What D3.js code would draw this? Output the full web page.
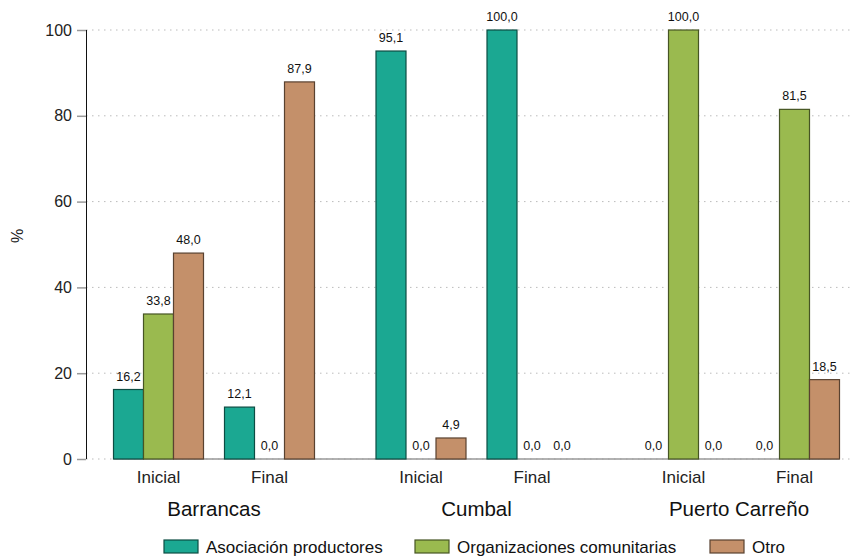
<!DOCTYPE html>
<html><head><meta charset="utf-8">
<script src="https://cdn.jsdelivr.net/npm/d3@7"></script>
<style>body{margin:0;background:#fff}svg{display:block;font-family:"Liberation Sans",Arial,sans-serif}</style>
</head><body><svg id="c" width="859" height="557"></svg>
<script>
const regions = ["Barrancas", "Cumbal", "Puerto Carreño"];
const phases = ["Inicial", "Final"];
const series = ["Asociación productores", "Organizaciones comunitarias", "Otro"];
const colors = ["#1ba892", "#9aba4f", "#c4906a"];
const asociacion = [16.2, 12.1, 95.1, 100.0, 0.0, 0.0];
const organizaciones = [33.8, 0.0, 0.0, 0.0, 100.0, 81.5];
const otro = [48.0, 87.9, 4.9, 0.0, 0.0, 18.5];
const yTicks = [0, 20, 40, 60, 80, 100];

const values = [asociacion, organizaciones, otro];
const svg = d3.select("#c");
const y = d3.scaleLinear().domain([0, 100]).range([459, 30]);
const xr = d3.scalePoint().domain(regions).range([214, 739]);
const xp = d3.scaleBand().domain(phases).range([-111, 111]);
const xs = d3.scaleBand().domain(series).range([-45, 45]);
const axisX = 86, gridEnd = 850;

// gridlines
svg.append("g").selectAll("line").data(yTicks).join("line")
  .attr("x1", axisX).attr("x2", gridEnd)
  .attr("y1", d => y(d)).attr("y2", d => y(d))
  .attr("stroke", "#bbb").attr("stroke-width", 1).attr("stroke-dasharray", "1.5,4.5");

// baseline under bars
const firstX = xr(regions[0]) + xp(phases[0]) + xp.bandwidth() / 2 + xs(series[0]);
const lastX = xr(regions[2]) + xp(phases[1]) + xp.bandwidth() / 2 + xs(series[2]) + xs.bandwidth();
svg.append("line").attr("x1", firstX).attr("x2", lastX).attr("y1", y(0)).attr("y2", y(0))
  .attr("stroke", "#999").attr("stroke-width", 1.5);

// y axis
const ya = d3.axisLeft(y).tickValues(yTicks).tickSize(9).tickPadding(5).tickFormat(d3.format("d"));
const yg = svg.append("g").attr("transform", `translate(${axisX},0)`).call(ya);
yg.select(".domain").attr("stroke", "#111").attr("d", `M0.5,${y(100)}V${y(0)}`);
yg.selectAll(".tick line").attr("stroke", "#999").attr("stroke-width", 1.5);
yg.selectAll(".tick text").attr("font-size", 16).attr("fill", "#222").attr("font-family", "Liberation Sans, Arial, sans-serif");

svg.append("text").attr("transform", "translate(23,236) rotate(-90)").attr("text-anchor", "middle")
  .attr("font-size", 16).attr("fill", "#222").text("%");

// bars
const data = [];
regions.forEach((r, ri) => phases.forEach((p, pi) => series.forEach((s, si) => {
  data.push({ r, p, s, si, v: values[si][ri * 2 + pi] });
})));
const fmt = v => v.toFixed(1).replace(".", ",");
const bx = d => xr(d.r) + xp(d.p) + xp.bandwidth() / 2 + xs(d.s);
const bars = data.filter(d => d.v > 0);
svg.append("g").selectAll("rect").data(bars).join("rect")
  .attr("x", d => bx(d)).attr("width", xs.bandwidth())
  .attr("y", d => y(d.v)).attr("height", d => y(0) - y(d.v))
  .attr("fill", d => colors[d.si])
  .attr("stroke", d => d3.color(colors[d.si]).darker(2.2)).attr("stroke-width", 1.2);

svg.append("g").selectAll("text").data(data).join("text")
  .attr("x", d => bx(d) + xs.bandwidth() / 2).attr("y", d => y(d.v) - 9)
  .attr("text-anchor", "middle").attr("font-size", 12.5).attr("fill", "#111").text(d => fmt(d.v));

// phase labels
regions.forEach(r => phases.forEach(p => {
  svg.append("text").attr("x", xr(r) + xp(p) + xp.bandwidth() / 2).attr("y", 483)
    .attr("text-anchor", "middle").attr("font-size", 17).attr("fill", "#222").text(p);
}));
svg.append("g").selectAll("text").data(regions).join("text")
  .attr("x", d => xr(d)).attr("y", 516).attr("text-anchor", "middle")
  .attr("font-size", 20.5).attr("fill", "#111").text(d => d);

// legend
const legX = [164, 415, 710];
const lg = svg.append("g").selectAll("g").data(series).join("g")
  .attr("transform", (d, i) => `translate(${legX[i]},540)`);
lg.append("rect").attr("width", 34).attr("height", 13).attr("fill", (d, i) => colors[i])
  .attr("stroke", (d, i) => d3.color(colors[i]).darker(2.2)).attr("stroke-width", 1.2);
lg.append("text").attr("x", 42).attr("y", 13).attr("font-size", 17).attr("fill", "#111").text(d => d);
</script></body></html>
